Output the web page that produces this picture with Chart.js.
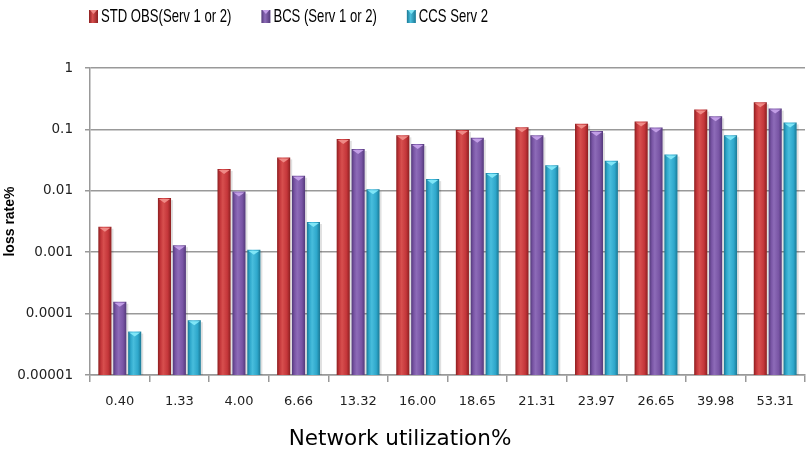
<!DOCTYPE html>
<html lang="en">
<head>
    <meta charset="UTF-8">
    <title>Loss rate vs network utilization</title>
    <script src="https://cdn.jsdelivr.net/npm/chart.js"></script>
    <style>
        html, body { margin: 0; padding: 0; background: #fff; }
        .canvas-container { width: 806px; height: 453px; }
    </style>
</head>
<body>
<div class="canvas-container">
    <canvas id="lossChart" width="806" height="453"></canvas>
</div>
<script>
    // values
    const categories = ['0.40', '1.33', '4.00', '6.66', '13.32', '16.00', '18.65', '21.31', '23.97', '26.65', '39.98', '53.31'];
    const stdObs = [0.0026, 0.0076, 0.0226, 0.035, 0.070, 0.080, 0.098, 0.108, 0.124, 0.135, 0.21, 0.276];
    const bcs = [0.000156, 0.0013, 0.0097, 0.0176, 0.048, 0.058, 0.073, 0.080, 0.094, 0.107, 0.163, 0.218];
    const ccsServ2 = [0.000051, 0.000078, 0.0011, 0.0031, 0.0106, 0.0155, 0.0195, 0.026, 0.031, 0.039, 0.080, 0.130];
    const yTicks = [0.00001, 0.0001, 0.001, 0.01, 0.1, 1];
    const xTitle = 'Network utilization%';

    // edge / mid / highlight / cap colours for the cylinder look
    const shades = [
        { edge: '#8c1f20', mid: '#c4363a', light: '#d74f4e', cap: '#ef8a86' },
        { edge: '#53397a', mid: '#7955a5', light: '#8d6bb8', cap: '#c29ee6' },
        { edge: '#1a7894', mid: '#2ea7cb', light: '#48bddc', cap: '#80e6f7' }
    ];

    const cylinderPlugin = {
        id: 'cylinder',
        beforeDatasetsDraw(chart) {
            const ctx = chart.ctx;
            chart.data.datasets.forEach((ds, i) => {
                const s = shades[i];
                chart.getDatasetMeta(i).data.forEach(el => {
                    const g = ctx.createLinearGradient(el.x - el.width / 2, 0, el.x + el.width / 2, 0);
                    g.addColorStop(0, s.edge);
                    g.addColorStop(0.2, s.mid);
                    g.addColorStop(0.4, s.light);
                    g.addColorStop(0.75, s.mid);
                    g.addColorStop(1, s.edge);
                    el.options = Object.assign({}, el.options, { backgroundColor: g });
                });
            });
            // soft shadow right of each bar
            ctx.save();
            chart.data.datasets.forEach((ds, i) => {
                chart.getDatasetMeta(i).data.forEach(el => {
                    ctx.fillStyle = 'rgba(0,0,0,0.12)';
                    ctx.fillRect(el.x + el.width / 2, el.y + 2, 2, el.base - el.y - 2);
                });
            });
            ctx.restore();
        },
        afterDatasetsDraw(chart) {
            const ctx = chart.ctx;
            ctx.save();
            chart.data.datasets.forEach((ds, i) => {
                const s = shades[i];
                chart.getDatasetMeta(i).data.forEach(el => {
                    const l = el.x - el.width / 2, r = el.x + el.width / 2;
                    ctx.fillStyle = s.cap;
                    ctx.beginPath();
                    ctx.moveTo(l + 1, el.y + 1);
                    ctx.lineTo(r - 1, el.y + 1);
                    ctx.lineTo(el.x, el.y + 5);
                    ctx.closePath();
                    ctx.fill();
                });
            });
            ctx.restore();
        }
    };

    // legend in a narrow (Calibri-like) face, and the x title left of centre
    const legendPlugin = {
        id: 'topLegend',
        afterDraw(chart) {
            const ctx = chart.ctx;
            const squeeze = 0.69;
            ctx.save();
            ctx.font = '19px "Liberation Sans", sans-serif';
            ctx.textBaseline = 'middle';
            let x = 89;
            const y = 16;
            chart.data.datasets.forEach((ds, i) => {
                const s = shades[i];
                const g = ctx.createLinearGradient(x, 0, x + 9, 0);
                g.addColorStop(0, s.edge);
                g.addColorStop(0.4, s.light);
                g.addColorStop(1, s.edge);
                ctx.fillStyle = g;
                ctx.fillRect(x, y - 6, 9, 13);
                ctx.fillStyle = s.cap;
                ctx.beginPath();
                ctx.moveTo(x + 1, y - 6);
                ctx.lineTo(x + 8, y - 6);
                ctx.lineTo(x + 4.5, y - 2);
                ctx.closePath();
                ctx.fill();
                ctx.fillStyle = '#000';
                const w = ctx.measureText(ds.label).width * squeeze;
                ctx.save();
                ctx.translate(x + 12, y + 1);
                ctx.scale(squeeze, 1);
                ctx.fillText(ds.label, 0, 0);
                ctx.restore();
                x += 12 + w + 30;
            });

            ctx.font = '21.5px "DejaVu Sans", sans-serif';
            ctx.textAlign = 'center';
            ctx.fillStyle = '#000';
            ctx.fillText(xTitle, 400, 439);
            ctx.restore();
        }
    };

    const ctx = document.getElementById('lossChart').getContext('2d');

    new Chart(ctx, {
        type: 'bar',
        data: {
            labels: categories,
            datasets: [
                { label: 'STD OBS(Serv 1 or 2)', data: stdObs, backgroundColor: shades[0].mid },
                { label: 'BCS (Serv 1 or 2)', data: bcs, backgroundColor: shades[1].mid },
                { label: 'CCS Serv 2', data: ccsServ2, backgroundColor: shades[2].mid }
            ]
        },
        options: {
            responsive: false,
            animation: false,
            layout: { padding: { top: 68, right: 1, left: 0, bottom: 0 } },
            datasets: {
                bar: { categoryPercentage: 0.75, barPercentage: 0.88 }
            },
            plugins: {
                legend: { display: false },
                tooltip: { enabled: false }
            },
            scales: {
                x: {
                    grid: {
                        drawOnChartArea: false,
                        drawTicks: true,
                        tickLength: 7,
                        color: '#999',
                        lineWidth: 1.5
                    },
                    border: { color: '#999', width: 1.5 },
                    ticks: {
                        font: { family: '"DejaVu Sans"', size: 13 },
                        color: '#222',
                        padding: 12,
                        maxRotation: 0
                    },
                    afterFit(scale) { scale.height = 78; }
                },
                y: {
                    type: 'logarithmic',
                    min: 0.00001,
                    max: 1,
                    afterBuildTicks(scale) {
                        scale.ticks = yTicks.map(v => ({ value: v }));
                    },
                    grid: {
                        color: '#999',
                        lineWidth: 1.5,
                        tickLength: 5
                    },
                    border: { color: '#999', width: 1.5 },
                    ticks: {
                        font: { family: '"DejaVu Sans"', size: 13.5 },
                        color: '#222',
                        padding: 12,
                        callback: v => String(v)
                    },
                    title: {
                        display: true,
                        text: 'loss rate%',
                        font: { family: '"Liberation Sans"', size: 14, weight: 'bold' },
                        color: '#000',
                        padding: { top: 2, bottom: 0 }
                    },
                    afterFit(scale) { scale.width = 90; }
                }
            }
        },
        plugins: [cylinderPlugin, legendPlugin]
    });
</script>
</body>
</html>
